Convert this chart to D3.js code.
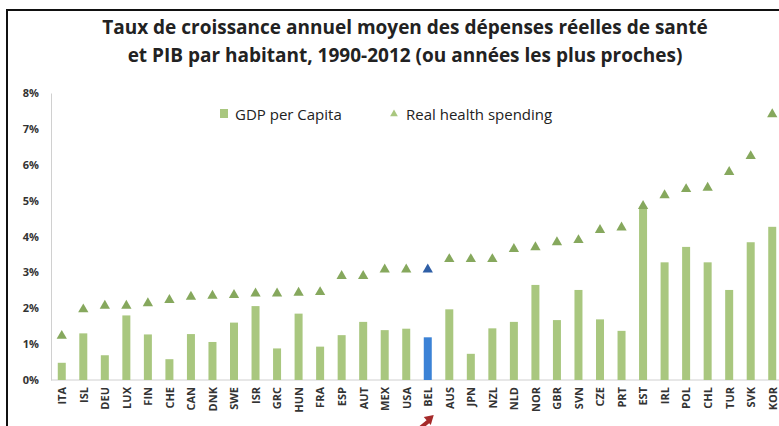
<html>
<head>
<meta charset="utf-8">
<script src="https://d3js.org/d3.v7.min.js"></script>
<style>
  body { margin: 0; background: #fff; }
  text { font-family: "Open Sans", "Liberation Sans", sans-serif; }
</style>
</head>
<body>
<svg width="779" height="426"></svg>
<script>
// data (annual growth, %)
const countries = ["ITA","ISL","DEU","LUX","FIN","CHE","CAN","DNK","SWE","ISR","GRC","HUN","FRA","ESP","AUT","MEX","USA","BEL","AUS","JPN","NZL","NLD","NOR","GBR","SVN","CZE","PRT","EST","IRL","POL","CHL","TUR","SVK","KOR"];
const gdpPerCapita = [0.48,1.30,0.69,1.80,1.27,0.58,1.28,1.06,1.60,2.06,0.88,1.85,0.93,1.25,1.62,1.39,1.43,1.19,1.97,0.73,1.44,1.62,2.65,1.67,2.51,1.69,1.37,4.83,3.28,3.71,3.28,2.51,3.84,4.27];
const healthSpending = [1.23,1.97,2.07,2.07,2.14,2.23,2.32,2.35,2.37,2.41,2.41,2.43,2.45,2.90,2.90,3.08,3.08,3.08,3.37,3.37,3.37,3.65,3.70,3.84,3.90,4.18,4.25,4.85,5.15,5.32,5.36,5.80,6.24,7.41];
const yTicks = [0,1,2,3,4,5,6,7,8];
const highlight = "BEL";

const data = countries.map((c, i) => ({c: c, gdp: gdpPerCapita[i], hs: healthSpending[i]}));

const svg = d3.select("svg");

// frame
svg.append("path")
  .attr("d", "M7,426 L7,10 L779,10")
  .attr("fill", "none")
  .attr("stroke", "#111")
  .attr("stroke-width", 2);

// title
const title = svg.append("text")
  .attr("text-anchor", "middle")
  .style("font-size", "19px")
  .style("font-weight", "bold")
  .style("fill", "#222");
title.append("tspan").attr("x", 405).attr("y", 34).text("Taux de croissance annuel moyen des dépenses réelles de santé");
title.append("tspan").attr("x", 405).attr("y", 62).text("et PIB par habitant, 1990-2012 (ou années les plus proches)");

const x = d3.scalePoint().domain(countries).range([51, 783]).padding(0.5);
const y = d3.scaleLinear().domain([0, 8]).range([380, 93]);

// axes
const yAx = svg.append("g")
  .attr("transform", "translate(51,0)")
  .call(d3.axisLeft(y).tickValues(yTicks).tickSize(0).tickPadding(12).tickFormat(d => d + "%"));
yAx.select(".domain").attr("stroke", "#d0d0d0");
yAx.selectAll("text")
  .style("font-size", "11px").style("font-weight", "bold").style("fill", "#333")
  .style("font-family", "'Open Sans', sans-serif");

const xAx = svg.append("g")
  .attr("transform", "translate(0,380)")
  .call(d3.axisBottom(x).tickSize(0).tickPadding(0));
xAx.select(".domain").attr("d", "M51,0H779").attr("stroke", "#d0d0d0");
xAx.selectAll("text")
  .attr("transform", "rotate(-90)")
  .attr("x", -7).attr("y", 0).attr("dy", "0.35em")
  .attr("text-anchor", "end")
  .style("font-size", "11px").style("font-weight", "bold").style("fill", "#333")
  .style("font-family", "'Open Sans', sans-serif");

// bars
const barW = 8;
svg.selectAll(".bar")
  .data(data)
  .enter()
  .append("rect")
    .attr("class", "bar")
    .attr("x", d => x(d.c) - barW / 2)
    .attr("y", d => y(d.gdp))
    .attr("width", barW)
    .attr("height", d => y(0) - y(d.gdp))
    .attr("fill", d => d.c == highlight ? "#3b82d6" : "#a9c77f");

// triangles
svg.selectAll(".tri")
  .data(data)
  .enter()
  .append("path")
    .attr("class", "tri")
    .attr("d", d3.symbol(d3.symbolTriangle).size(46))
    .attr("transform", d => "translate(" + x(d.c) + "," + y(d.hs) + ")")
    .attr("fill", d => d.c == highlight ? "#2f5fa6" : "#86a85d");

// legend
svg.append("rect").attr("x", 220).attr("y", 109).attr("width", 8).attr("height", 9).attr("fill", "#a9c77f");
svg.append("text").attr("x", 235).attr("y", 119.5).text("GDP per Capita")
  .style("font-size", "15px").style("fill", "#222");
svg.append("path")
  .attr("d", d3.symbol(d3.symbolTriangle).size(26))
  .attr("transform", "translate(394,114)")
  .attr("fill", "#a9c77f");
svg.append("text").attr("x", 406).attr("y", 119.5).text("Real health spending")
  .style("font-size", "15px").style("fill", "#222");

// red arrow pointing to BEL
const ax = x(highlight);
svg.append("line")
  .attr("x1", ax - 10).attr("y1", 430).attr("x2", ax + 1).attr("y2", 421)
  .attr("stroke", "#a52a2a").attr("stroke-width", 4);
svg.append("path")
  .attr("d", "M" + (ax + 6) + ",415 L" + (ax - 4) + ",417 L" + (ax + 3) + ",425 Z")
  .attr("fill", "#a52a2a");
</script>
</body>
</html>
